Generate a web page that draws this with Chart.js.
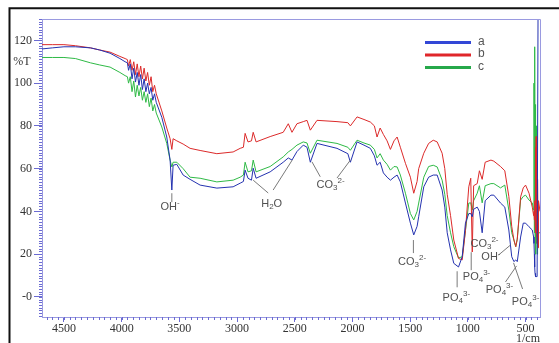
<!DOCTYPE html>
<html>
<head>
<meta charset="utf-8">
<script src="https://cdn.jsdelivr.net/npm/chart.js@4.4.1/dist/chart.umd.min.js"></script>
<style>
  html, body { margin: 0; padding: 0; background: #fff; }
  canvas { display: block; }
</style>
</head>
<body>
<canvas id="ftir" width="559" height="343"></canvas>
<script>
// ── FTIR spectra: transmittance (%T) vs wavenumber (1/cm) ──

const seriesNames = ['a', 'b', 'c'];

const wavenumbers = [
  4690, 4600, 4500, 4400, 4270, 4190, 4100, 4015, 3970, 3950,
  3940, 3925, 3910, 3895, 3880, 3865, 3850, 3835, 3820, 3805,
  3790, 3775, 3760, 3745, 3730, 3715, 3700, 3652, 3609, 3580,
  3565, 3554, 3522, 3467, 3407, 3320, 3175, 3034, 2973, 2945,
  2930, 2905, 2875, 2860, 2835, 2713, 2600, 2556, 2524, 2481,
  2426, 2394, 2365, 2307, 2134, 2040, 2018, 1960, 1900, 1845,
  1810, 1787, 1760, 1732, 1700, 1671, 1640, 1613, 1585, 1541,
  1498, 1469, 1440, 1426, 1382, 1340, 1300, 1266, 1223, 1200,
  1179, 1150, 1122, 1081, 1049, 1021, 992, 975, 962, 950,
  919, 900, 876, 850, 800, 775, 717, 680, 645, 620,
  601, 585, 572, 543, 520, 500, 470, 442, 430, 427,
  424, 421, 418, 415, 412, 409, 406, 403, 400, 396,
  392, 388, 375
];

const transA = [
  116, 116.5, 117, 117, 116.5, 115.5, 114, 111.5, 110, 109.5,
  106, 109, 102, 107, 100.5, 105, 99, 104, 97, 102,
  96, 100, 95, 98, 92, 95, 91, 84, 74.8, 64,
  50, 61.6, 62, 57, 55, 52.3, 50.9, 51.5, 53.2, 54,
  59.3, 55.5, 54.6, 60.2, 55.5, 58.5, 63, 65, 64, 68,
  71, 70, 63, 71.8, 69.5, 67, 63, 72.5, 71, 69.5,
  66, 61.6, 63, 58, 56, 54.6, 56, 57, 53.8, 43.9,
  34.5, 29, 33, 37.5, 51.5, 56, 57, 57, 50, 42,
  30, 22, 15.7, 14, 18.8, 34.5, 39, 39, 37.5, 41,
  42, 40, 30, 45, 47.6, 47.6, 43.9, 42, 31.3, 18.8,
  16.5, 17.3, 16.5, 28, 34.5, 34.5, 32.8, 31.3, 28, 25,
  20, 14, 11, 10, 9.5, 9.5, 9.5, 9.5, 9.5, 9.5,
  132, 132, 132
];

const transB = [
  118, 118, 118, 117.5, 116.5, 115.5, 114.5, 112.5, 111.5, 111,
  108, 111, 106, 110, 104, 109, 103, 108, 102, 107,
  101, 105, 99, 103, 96, 99, 95, 87, 79, 74,
  69, 74, 73, 71.5, 69.5, 68.5, 67, 67.8, 69.5, 70,
  76.5, 72.5, 73, 77, 72.5, 75, 77, 81, 77, 81,
  82, 82.6, 78, 82.6, 82, 81.5, 80, 84.2, 83, 81.8,
  80, 74.8, 79, 76, 73, 69, 73, 74.8, 70, 62.5,
  56, 48.5, 54, 60, 67.2, 71.8, 73.3, 72.5, 67.2, 60,
  48, 38, 26.6, 18, 17.3, 31, 51.5, 55.5, 21, 52,
  53, 59, 55, 63, 64, 63.5, 61, 59, 47, 33,
  26.6, 23.5, 27, 46.8, 51, 52.3, 48.5, 42, 38, 40,
  36, 45, 35, 70, 30, 75, 28, 60, 25, 55,
  23, 45, 40
];

const transC = [
  112, 112, 112, 111.5, 109.5, 108.5, 107.5, 105, 103.5, 103,
  100, 103, 96, 101, 93.5, 99, 94, 98, 92, 96,
  91, 95, 89, 93, 87, 90, 86, 79.5, 71.8, 64,
  60.8, 63, 63, 60, 56, 55.5, 53.8, 54.6, 56, 57,
  63, 58.5, 59, 64, 58.5, 61, 65.5, 67.8, 69, 71,
  72.5, 72, 67.2, 73.3, 71.8, 70, 68.6, 73.3, 72, 71,
  69, 65, 67, 64, 62, 59.3, 61, 60.8, 57, 48.5,
  39, 36, 40, 43.9, 56, 61, 61.6, 60.8, 54.6, 48,
  38, 30, 23.5, 18.2, 18.8, 31, 43.9, 44, 40.6, 45,
  48.5, 52, 44, 52, 53, 53, 51, 52.3, 40.6, 30,
  26.6, 23.5, 27, 45.3, 47, 47.6, 45.3, 44, 40.6, 100,
  30, 117, 25, 90, 20, 80, 25, 60, 20, 40,
  25, 30, 30
];

const xTickValues = [4500, 4000, 3500, 3000, 2500, 2000, 1500, 1000, 500];
const xTickLabels = ['4500', '4000', '3500', '3000', '2500', '2000', '1500', '1000', '500'];
const yTickValues = [0, 20, 40, 60, 80, 100, 120];
const yTickLabels = ['-0', '20', '40', '60', '80', '100', '120'];

// band assignments: text parts, label centre (wavenumber, %T), leader lines
const bandLabels = [
  { parts: [['OH', ''], ['-', 'sup']], at: [3580, 42], lines: [[3565, 48.5, 3565, 44.3]] },
  { parts: [['H', ''], ['2', 'sub'], ['O', '']], at: [2700, 43.5],
    lines: [[2730, 48.6, 2860, 54.6], [2687, 50, 2522, 64]] },
  { parts: [['CO', ''], ['3', 'sub'], ['2-', 'sup']], at: [2190, 52.3],
    lines: [[2279, 56.2, 2351, 63.2], [2134, 55.6, 2018, 64]] },
  { parts: [['CO', ''], ['3', 'sub'], ['2-', 'sup']], at: [1483, 16.3], lines: [[1472, 26.6, 1472, 20.5]] },
  { parts: [['PO', ''], ['4', 'sub'], ['3-', 'sup']], at: [1100, -0.3], lines: [[1093, 12, 1093, 4.5]] },
  { parts: [['PO', ''], ['4', 'sub'], ['3-', 'sup']], at: [925, 9.2], lines: [[971, 20.9, 971, 12.5]] },
  { parts: [['CO', ''], ['3', 'sub'], ['2-', 'sup']], at: [856, 24.7], lines: [] },
  { parts: [['OH', ''], ['-', 'sup']], at: [800, 18.5], lines: [[734, 19.6, 630, 24.3]] },
  { parts: [['PO', ''], ['4', 'sub'], ['3-', 'sup']], at: [726, 3.1], lines: [[674, 7, 578, 14.5]] },
  { parts: [['PO', ''], ['4', 'sub'], ['3-', 'sup']], at: [500, -2.5], lines: [[526, 3.7, 604, 15.9]] },
];

const lineColors = ['#2432b0', '#dc2a2a', '#2fba46'];
const legendColors = ['#3347d6', '#e0262a', '#26a84a'];
const frameColor = '#9a9ae0';
const tickColor = '#6b6bd2';
const serif = '"Liberation Serif", "DejaVu Serif", serif';
const sans = '"Liberation Sans", Arial, sans-serif';

const series = [transA, transB, transC];

const chromePlugin = {
  id: 'chrome',
  beforeDraw(chart) {
    const ctx = chart.ctx;
    ctx.save();
    ctx.fillStyle = '#fff';
    ctx.fillRect(0, 0, chart.width, chart.height);
    // outer picture border
    ctx.strokeStyle = '#111';
    ctx.lineWidth = 2;
    ctx.beginPath();
    ctx.moveTo(9.5, 343);
    ctx.lineTo(9.5, 8.3);
    ctx.lineTo(559, 8.3);
    ctx.stroke();
    ctx.restore();
  },
  afterDraw(chart) {
    const { ctx, chartArea: ca } = chart;
    const xs = chart.scales.x, ys = chart.scales.y;
    ctx.save();

    // top / right frame
    ctx.strokeStyle = frameColor;
    ctx.lineWidth = 1;
    ctx.beginPath();
    ctx.moveTo(ca.left, ca.top + 0.5);
    ctx.lineTo(ca.right + 0.5, ca.top + 0.5);
    ctx.lineTo(ca.right + 0.5, ca.bottom);
    ctx.stroke();

    // minor ticks
    ctx.strokeStyle = tickColor;
    ctx.beginPath();
    for (let v = -8.75; v <= 130; v += 1.25) {
      const py = Math.round(ys.getPixelForValue(v)) + 0.5;
      ctx.moveTo(ca.left - 3, py);
      ctx.lineTo(ca.left, py);
    }
    for (let w = 400; w <= 4650; w += 50) {
      const px = Math.round(xs.getPixelForValue(w)) + 0.5;
      ctx.moveTo(px, ca.bottom);
      ctx.lineTo(px, ca.bottom + 3);
    }
    ctx.stroke();

    // axis titles
    ctx.fillStyle = '#333';
    ctx.font = '12px ' + serif;
    ctx.textAlign = 'center';
    ctx.textBaseline = 'middle';
    ctx.fillText('%T', 22, 62);
    ctx.fillText('1/cm', 528, 339);

    // legend
    chart.data.datasets.forEach((ds, i) => {
      const ly = 42.5 + i * 12.5;
      ctx.strokeStyle = legendColors[i];
      ctx.lineWidth = 3;
      ctx.beginPath();
      ctx.moveTo(425, ly);
      ctx.lineTo(471, ly);
      ctx.stroke();
      ctx.fillStyle = '#555';
      ctx.font = '12px ' + sans;
      ctx.textAlign = 'left';
      ctx.fillText(ds.label, 478, ly - 1);
    });

    // band labels with leader lines
    ctx.strokeStyle = '#7a7a7a';
    ctx.lineWidth = 1;
    bandLabels.forEach(b => {
      b.lines.forEach(l => {
        ctx.beginPath();
        ctx.moveTo(xs.getPixelForValue(l[0]), ys.getPixelForValue(l[1]));
        ctx.lineTo(xs.getPixelForValue(l[2]), ys.getPixelForValue(l[3]));
        ctx.stroke();
      });
      const big = '11px ' + sans, small = '8px ' + sans;
      let total = 0;
      b.parts.forEach(p => { ctx.font = p[1] ? small : big; total += ctx.measureText(p[0]).width; });
      let tx = xs.getPixelForValue(b.at[0]) - total / 2;
      const ty = ys.getPixelForValue(b.at[1]);
      ctx.fillStyle = '#505050';
      ctx.textAlign = 'left';
      ctx.textBaseline = 'middle';
      b.parts.forEach(p => {
        ctx.font = p[1] ? small : big;
        const dy = p[1] === 'sub' ? 3 : p[1] === 'sup' ? -4 : 0;
        ctx.fillText(p[0], tx, ty + dy);
        tx += ctx.measureText(p[0]).width;
      });
    });
    ctx.restore();
  }
};

new Chart(document.getElementById('ftir'), {
  type: 'line',
  data: {
    datasets: series.map((vals, i) => ({
      label: seriesNames[i],
      data: wavenumbers.map((w, j) => ({ x: w, y: vals[j] })),
      borderColor: lineColors[i],
      borderWidth: 1,
      pointRadius: 0,
      tension: 0,
      fill: false,
    })),
  },
  options: {
    responsive: false,
    animation: false,
    events: [],
    layout: { padding: { top: 19, right: 19, left: 0, bottom: 0 } },
    plugins: { legend: { display: false }, tooltip: { enabled: false } },
    scales: {
      x: {
        type: 'linear',
        reverse: true,
        min: 375,
        max: 4690,
        afterBuildTicks: s => { s.ticks = xTickValues.map(v => ({ value: v })); },
        afterFit: s => { s.height = 26; },
        ticks: {
          autoSkip: false,
          maxRotation: 0,
          padding: 0,
          color: '#333',
          font: { family: serif, size: 12 },
          callback: (v, i) => xTickLabels[i],
        },
        grid: { drawOnChartArea: false, tickLength: 5, tickColor: tickColor },
        border: { color: frameColor },
      },
      y: {
        type: 'linear',
        min: -9.4,
        max: 130,
        afterBuildTicks: s => { s.ticks = yTickValues.map(v => ({ value: v })); },
        afterFit: s => { s.width = 42; },
        ticks: {
          autoSkip: false,
          padding: 2,
          color: '#333',
          font: { family: serif, size: 12 },
          callback: (v, i) => yTickLabels[i],
        },
        grid: { drawOnChartArea: false, tickLength: 8, tickColor: tickColor },
        border: { color: frameColor },
      },
    },
  },
  plugins: [chromePlugin],
});
</script>
</body>
</html>
